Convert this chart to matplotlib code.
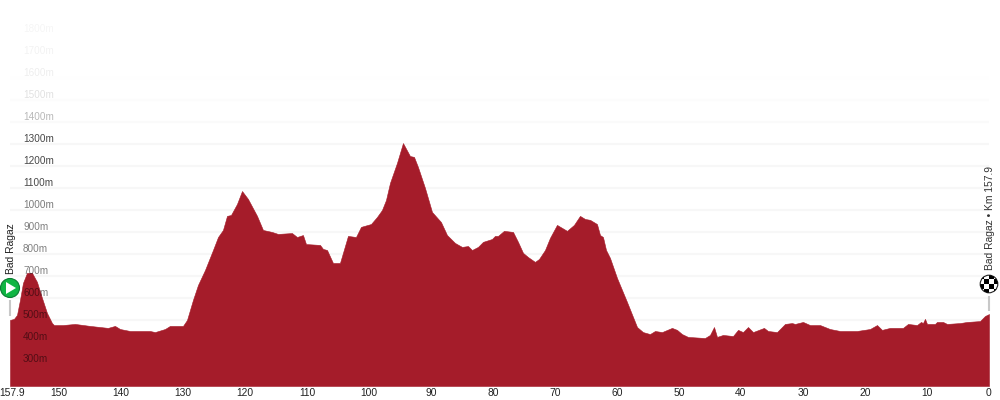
import matplotlib
matplotlib.use("Agg")
import matplotlib.pyplot as plt
from matplotlib.patches import Circle, Rectangle, Polygon
from matplotlib.transforms import ScaledTranslation

plt.rcParams['font.family'] = ['Liberation Sans', 'DejaVu Sans']

# profile, km to go / altitude in m
km = [157.9, 157.26, 156.77, 156.29, 155.81, 155.16, 154.35, 153.55, 152.74, 151.94, 151.13, 150.81,
      149.35, 147.42, 145.0, 142.1, 140.97, 140.16, 138.55, 135.32, 134.52, 132.9, 132.1, 130.0,
      129.35, 128.39, 127.58, 126.45, 125.16, 124.35, 123.55, 122.9, 122.26, 121.29, 120.48, 119.52,
      118.06, 117.1, 115.65, 114.68, 112.42, 111.61, 110.65, 110.16, 107.9, 107.42, 106.77, 105.81,
      104.68, 103.39, 102.1, 101.29, 100.81, 99.68, 98.71, 97.9, 97.26, 96.61, 95.48, 94.52,
      93.39, 92.74, 92.1, 90.97, 89.84, 88.39, 87.42, 86.13, 85.0, 84.03, 83.39, 82.42,
      81.61, 80.16, 79.68, 79.19, 78.23, 76.77, 75.97, 75.16, 74.35, 73.23, 72.58, 71.61,
      70.81, 69.68, 68.06, 66.94, 65.97, 65.16, 64.35, 63.23, 62.74, 62.26, 61.77, 61.13,
      60.0, 58.39, 56.77, 55.81, 54.68, 53.87, 52.74, 51.13, 50.32, 49.52, 48.55, 45.81,
      45.0, 44.35, 43.87, 42.9, 41.29, 40.48, 39.68, 38.87, 38.06, 36.29, 35.65, 34.19,
      32.9, 31.77, 31.29, 30.0, 28.87, 27.26, 25.65, 24.03, 21.29, 19.19, 18.06, 17.26,
      15.97, 13.87, 13.06, 11.61, 10.97, 10.65, 10.32, 10.0, 8.71, 8.39, 7.42, 6.77,
      4.68, 3.55, 1.45, 0.65, 0]
alt = [500, 505, 523, 591, 668, 714, 714, 673, 600, 532, 486, 477,
       477, 482, 473, 464, 473, 459, 450, 450, 445, 459, 473, 473,
       500, 591, 659, 727, 818, 877, 909, 973, 977, 1027, 1086, 1050,
       973, 909, 900, 891, 895, 877, 886, 845, 841, 823, 818, 759,
       759, 882, 877, 923, 927, 936, 968, 1000, 1045, 1123, 1214, 1304,
       1245, 1241, 1195, 1100, 991, 945, 886, 850, 832, 836, 818, 832,
       855, 868, 882, 882, 905, 900, 855, 805, 786, 764, 777, 818,
       873, 932, 905, 932, 973, 959, 955, 936, 886, 877, 818, 782,
       691, 582, 468, 445, 436, 450, 445, 464, 455, 436, 423, 418,
       432, 468, 423, 432, 427, 455, 445, 468, 445, 464, 450, 445,
       482, 486, 482, 491, 477, 477, 459, 450, 450, 459, 477, 455,
       464, 464, 482, 477, 491, 486, 505, 482, 482, 491, 491, 482,
       486, 491, 495, 518, 527]

x_ticks = [157.9, 150, 140, 130, 120, 110, 100, 90, 80, 70, 60, 50, 40, 30, 20, 10, 0]
y_ticks = [1800, 1700, 1600, 1500, 1400, 1300, 1200, 1100, 1000, 900, 800, 700, 600, 500, 400, 300]

# text opacity and gridline colour per y tick, they fade out towards the top
label_alpha = [0.04, 0.05, 0.07, 0.12, 0.28, 0.72, 0.72, 0.72, 0.52, 0.5, 0.5, 0.5, 0.5, 0.5, 0.5, 0.5]
grid_cols = ['#ffffff', '#ffffff', '#fefefe', '#fcfcfc', '#fafafa', '#f7f7f7', '#f7f7f7', '#f7f7f7',
             '#f7f7f7', '#f7f7f7', '#f7f7f7', '#f7f7f7', '#f7f7f7', '#f7f7f7', '#f7f7f7', '#f7f7f7']

fig = plt.figure(figsize=(10, 4), dpi=100)
ax = fig.add_axes([0.01, 0.035, 0.979, 0.965])
ax.set_xlim(157.9, 0)
ax.set_ylim(200, 1954)
for s in ax.spines.values():
    s.set_visible(False)

ax.hlines(y_ticks, 157.9, 0, colors=grid_cols, linewidth=1.5, zorder=1)
ax.fill_between(km, alt, 200, color='#a51c2a', linewidth=0.4, zorder=2)

ax.set_yticks([])
ax.set_xticks(x_ticks)
ax.set_xticklabels([('%g' % t) for t in x_ticks], fontsize=7.4, color='#222222')
ax.tick_params(axis='x', length=0, pad=1.3)
# the first and last labels sit a bit inside the figure
lab = ax.get_xticklabels()
lab[0].set_transform(lab[0].get_transform() + ScaledTranslation(2.5 / 100, 0, fig.dpi_scale_trans))
lab[-1].set_transform(lab[-1].get_transform() + ScaledTranslation(-1 / 100, 0, fig.dpi_scale_trans))

# y labels are on top of the profile
trans = ax.get_yaxis_transform()
for t, a in zip(y_ticks, label_alpha):
    ax.text(0.0133, t + 22, '%dm' % t, transform=trans, fontsize=7.2, color='black', alpha=a,
            va='center', ha='left', zorder=5)

# overlay in pixels for the start and finish markers
ov = fig.add_axes([0, 0, 1, 1], facecolor='none')
ov.set_xlim(0, 1000)
ov.set_ylim(400, 0)
ov.axis('off')
start_x = ax.transData.transform((km[0], 0))[0]
end_x = ax.transData.transform((km[-1], 0))[0]

ov.plot([start_x, start_x], [300, 315.5], color='#c8c8c8', lw=1.5, solid_capstyle='butt')
ov.add_patch(Circle((start_x, 288), 9.5, fc='#10b543', ec='#0b7d33', lw=0.8))
ov.add_patch(Polygon([[start_x - 4, 282], [start_x - 4, 294], [start_x + 6, 288]], fc='white', ec='none'))
ov.text(start_x + 1, 274.5, 'Bad Ragaz', rotation=90, fontsize=7.4, color='#222222', ha='center', va='bottom')

ov.plot([end_x, end_x], [296, 311], color='#c8c8c8', lw=1.5, solid_capstyle='butt')
flag = Circle((end_x, 284), 8.8, fc='white', ec='#222222', lw=0.8, zorder=3)
ov.add_patch(flag)
for i in range(-2, 2):
    for j in range(-2, 2):
        if (i + j) % 2 == 0:
            r = Rectangle((end_x + i * 4.6, 284 + j * 4.6), 4.6, 4.6, fc='black', ec='none', zorder=4)
            ov.add_patch(r)
            r.set_clip_path(flag)
ov.text(end_x + 1, 270, 'Bad Ragaz \u2022 Km 157.9', rotation=90, fontsize=7.4, color='#333333',
        ha='center', va='bottom')

fig.savefig('out.png', dpi=100)
